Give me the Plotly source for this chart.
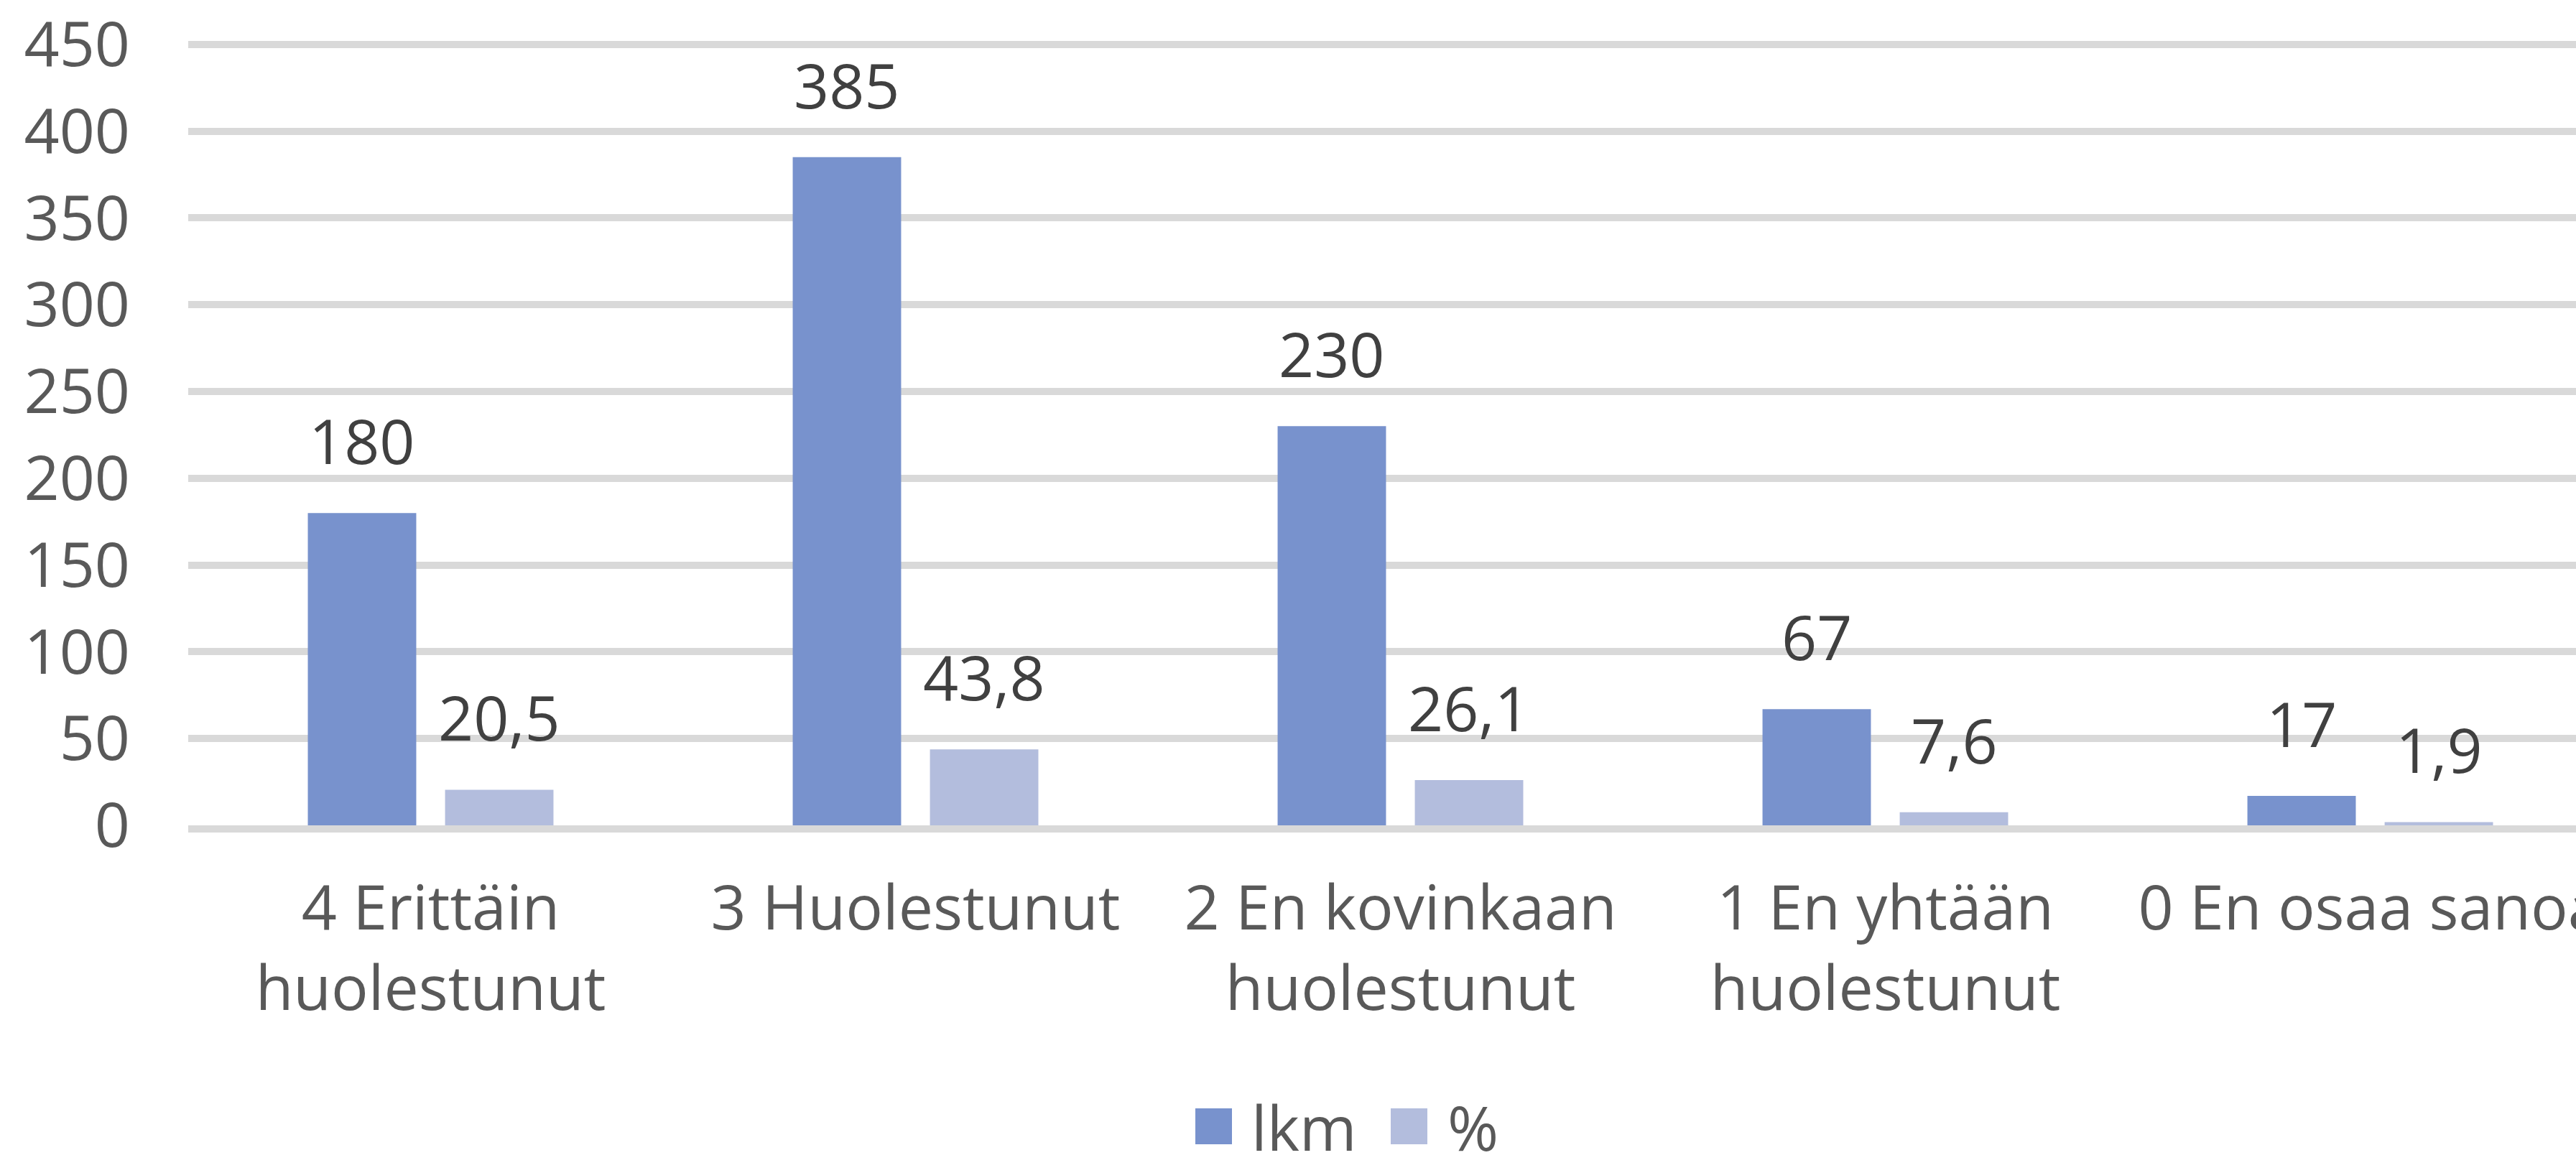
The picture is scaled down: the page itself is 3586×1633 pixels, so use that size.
import plotly.graph_objects as go

# ---- data ----
categories = ["4 Erittäin huolestunut", "3 Huolestunut", "2 En kovinkaan huolestunut",
              "1 En yhtään huolestunut", "0 En osaa sanoa"]
tick_labels = ["4 Erittäin<br>huolestunut", "3 Huolestunut", "2 En kovinkaan<br>huolestunut",
               "1 En yhtään<br>huolestunut", "0 En osaa sanoa"]
lkm_values = [180, 385, 230, 67, 17]
pct_values = [20.5, 43.8, 26.1, 7.6, 1.9]
series_names = ["lkm", "%"]
y_ticks = [0, 50, 100, 150, 200, 250, 300, 350, 400, 450]

# ---- styling / layout constants ----
W, H = 3586, 1633
ML, MR, MT, MB = 262, 0, 57, 484
PLOT_W = W - ML - MR
PLOT_H = H - MT - MB
X_RANGE = [-0.5, 4.4244]
Y_RANGE = [0, 452]
BARGAP = 0.434
BARGROUPGAP = 0.21
C_LKM = "#7892CD"
C_PCT = "#B3BDDD"
GRID = "#D9D9D9"
FONT = "Open Sans"
FS = 86


def fmt(v):
    if float(v).is_integer():
        return str(int(v))
    return f"{v:.1f}".replace(".", ",")


def pxx(px):
    return (px - ML) / PLOT_W


def pxy(py):
    return (H - MB - py) / PLOT_H


fig = go.Figure()
fig.add_trace(go.Bar(x=categories, y=lkm_values, name=series_names[0],
                     marker=dict(color=C_LKM, line=dict(width=0)), showlegend=False,
                     hoverinfo="x+y"))
fig.add_trace(go.Bar(x=categories, y=pct_values, name=series_names[1],
                     marker=dict(color=C_PCT, line=dict(width=0)), showlegend=False,
                     hoverinfo="x+y"))

# data labels
cat_px = PLOT_W / (X_RANGE[1] - X_RANGE[0])
slot = cat_px * (1 - BARGAP) / 2
annotations = []
for vals, sgn in ((lkm_values, -1), (pct_values, 1)):
    for c, v in zip(categories, vals):
        annotations.append(dict(x=c, y=v, xref="x", yref="y", text=fmt(v),
                                showarrow=False, xanchor="center", yanchor="bottom",
                                xshift=sgn * slot / 2, yshift=41,
                                font=dict(family=FONT, size=FS, color="#404040")))

# legend (drawn as swatches + text to match the large square keys)
LEG_Y = 1568  # vertical centre of legend row
shapes = []
legend_items = [(series_names[0], C_LKM, 1664, 1740), (series_names[1], C_PCT, 1936, 2013)]
for name, col, sx, tx in legend_items:
    shapes.append(dict(type="rect", xref="paper", yref="paper",
                       x0=pxx(sx), x1=pxx(sx + 51), y0=pxy(LEG_Y + 25), y1=pxy(LEG_Y - 25),
                       fillcolor=col, line=dict(width=0), layer="above"))
    annotations.append(dict(x=pxx(tx), y=pxy(LEG_Y), xref="paper", yref="paper",
                            text=name, showarrow=False, xanchor="left", yanchor="middle",
                            font=dict(family=FONT, size=FS, color="#595959")))

fig.update_layout(
    width=W, height=H,
    margin=dict(l=ML, r=MR, t=MT, b=MB, pad=0),
    paper_bgcolor="white", plot_bgcolor="white",
    barmode="group", bargap=BARGAP, bargroupgap=BARGROUPGAP,
    font=dict(family=FONT, size=FS, color="#595959"),
    showlegend=False,
    annotations=annotations,
    shapes=shapes,
    xaxis=dict(type="category", range=X_RANGE, tickmode="array",
               tickvals=categories, ticktext=tick_labels,
               showgrid=False, zeroline=False, showline=True, linecolor=GRID,
               linewidth=10, ticks="", automargin=False, ticklabelstandoff=32,
               tickfont=dict(family=FONT, size=FS, color="#595959")),
    yaxis=dict(range=Y_RANGE, tickmode="array", tickvals=y_ticks,
               showgrid=True, gridcolor=GRID, gridwidth=10, zeroline=False,
               showline=False, ticks="", automargin=False, ticklabelstandoff=80,
               ticklabeloverflow="allow",
               tickfont=dict(family=FONT, size=FS, color="#595959")),
)

fig.write_html("out.html", config={"displayModeBar": False},
               post_script="document.body.style.margin='0';")
